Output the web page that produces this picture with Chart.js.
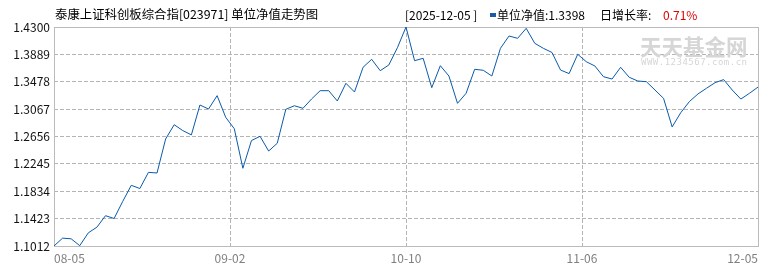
<!DOCTYPE html>
<html>
<head>
<meta charset="utf-8">
<script src="https://cdn.jsdelivr.net/npm/chart.js@4/dist/chart.umd.min.js"></script>
<style>
  html, body { margin: 0; padding: 0; background: #fff; }
  #wrap { position: relative; width: 770px; height: 270px; font-family: "Noto Sans CJK SC", sans-serif; }
  #wrap span { position: absolute; white-space: pre; line-height: 16px; }
  .t13 { font-size: 12.4px; color: #000; }
  .t12 { font-size: 12px; color: #000; }
  .mark { position: absolute; left: 490px; top: 13px; width: 6px; height: 4px; background: #1a5aa6; }
  .wm { color: #d6d6d6; }
</style>
</head>
<body>
<div id="wrap">
  <canvas id="chart-nav" width="770" height="270"></canvas>
  <span class="t13" style="left:55px;top:6px">泰康上证科创板综合指[023971] 单位净值走势图</span>
  <span class="t12" style="left:405px;top:7px">[2025-12-05 ]</span>
  <div class="mark"></div>
  <span class="t12" style="left:497px;top:7px">单位净值:1.3398</span>
  <span class="t12" style="left:600px;top:7px">日增长率:</span>
  <span class="t12" style="left:663px;top:7px;color:#e00000">0.71%</span>
  <span class="wm" style="left:640px;top:33px;font-size:21.5px;line-height:26px;font-weight:bold">天天基金网</span>
  <span class="wm" style="left:641px;top:57px;font-size:9px;line-height:10px;font-family:'DejaVu Sans Mono',monospace;letter-spacing:0.5px">WWW.1234567.com.cn</span>
</div>
<script>
// 1. Data (trading days 08-05 .. 12-05)
const navValues = [
  1.1012, 1.1130, 1.1120, 1.1017, 1.1210, 1.1295, 1.1467, 1.1425, 1.1680, 1.1923,
  1.1875, 1.2118, 1.2108, 1.2618, 1.2833, 1.2745, 1.2680, 1.3129, 1.3068, 1.3269,
  1.2944, 1.2773, 1.2179, 1.2595, 1.2659, 1.2438, 1.2554, 1.3064, 1.3118, 1.3079,
  1.3219, 1.3344, 1.3344, 1.3189, 1.3455, 1.3324, 1.3695, 1.3815, 1.3644, 1.3730,
  1.3989, 1.4300, 1.3794, 1.3830, 1.3389, 1.3719, 1.3564, 1.3154, 1.3305, 1.3665,
  1.3650, 1.3564, 1.3980, 1.4165, 1.4130, 1.4280, 1.4055, 1.3980, 1.3918, 1.3654,
  1.3600, 1.3890, 1.3779, 1.3714, 1.3554, 1.3519, 1.3695, 1.3545, 1.3489, 1.3479,
  1.3354, 1.3229, 1.2800, 1.3013, 1.3179, 1.3294, 1.3380, 1.3464, 1.3510, 1.3354,
  1.3218, 1.3304, 1.3398
];
const xTickLabels = ['08-05', '09-02', '10-10', '11-06', '12-05'];
const yTickValues = [1.1012, 1.1423, 1.1834, 1.2245, 1.2656, 1.3067, 1.3478, 1.3889, 1.4300];

const dayIndex = navValues.map((v, i) => i);
const lastIdx = navValues.length - 1;

// 2. Solid frame round the plot area
const framePlugin = {
  id: 'frame',
  beforeDatasetsDraw(chart) {
    const a = chart.chartArea;
    const ctx = chart.ctx;
    ctx.save();
    ctx.strokeStyle = '#bbbbbb';
    ctx.lineWidth = 1;
    ctx.strokeRect(Math.round(a.left) + 0.5, Math.round(a.top) + 0.5,
      Math.round(a.right - a.left), Math.round(a.bottom - a.top));
    ctx.restore();
  }
};

// 3. Chart
const ctx = document.getElementById('chart-nav').getContext('2d');
new Chart(ctx, {
  type: 'line',
  data: {
    labels: dayIndex,
    datasets: [{
      label: '单位净值',
      data: navValues,
      borderColor: '#0a5aab',
      borderWidth: 1,
      pointRadius: 0,
      tension: 0,
      fill: false
    }]
  },
  options: {
    responsive: false,
    animation: false,
    devicePixelRatio: 1,
    layout: { padding: { top: 27, right: 12, left: 0, bottom: 0 } },
    plugins: { legend: { display: false }, tooltip: { enabled: false } },
    scales: {
      x: {
        type: 'linear',
        min: 0,
        max: lastIdx,
        afterBuildTicks: s => { s.ticks = xTickLabels.map((t, k) => ({ value: k * lastIdx / (xTickLabels.length - 1) })); },
        afterFit: s => { s.height = 24; },
        grid: { color: '#b4b4b4', drawTicks: false },
        border: { display: false, dash: [4, 2] },
        ticks: {
          autoSkip: false,
          maxRotation: 0,
          align: 'inner',
          padding: 5,
          color: '#808080',
          font: { family: 'Noto Sans CJK SC', size: 12 },
          callback: (v, i) => xTickLabels[i]
        }
      },
      y: {
        min: yTickValues[0],
        max: yTickValues[yTickValues.length - 1],
        afterBuildTicks: s => { s.ticks = yTickValues.map(v => ({ value: v })); },
        afterFit: s => { s.width = 54; },
        grid: { color: '#b4b4b4', drawTicks: false },
        border: { display: false, dash: [4, 2] },
        ticks: {
          padding: 4,
          color: '#111',
          font: { family: 'Noto Sans CJK SC', size: 12 },
          callback: v => Number(v).toFixed(4)
        }
      }
    }
  },
  plugins: [framePlugin]
});
</script>
</body>
</html>
